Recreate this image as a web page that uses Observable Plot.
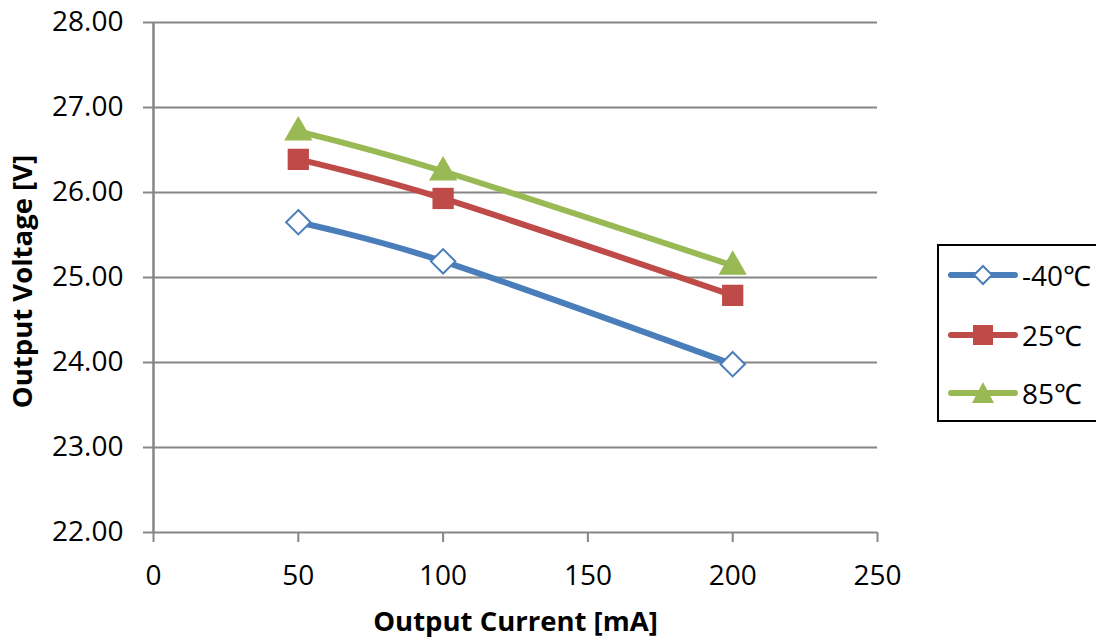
<!DOCTYPE html>
<html>
<head>
<meta charset="utf-8">
<script src="https://cdn.jsdelivr.net/npm/d3@7"></script>
<script src="https://cdn.jsdelivr.net/npm/@observablehq/plot@0.6"></script>
<style>
  html, body { margin: 0; padding: 0; background: #fff; overflow: hidden; }
  #wrap { position: relative; width: 1096px; height: 639px; font-family: "Open Sans", sans-serif; }
  #chart { position: absolute; left: 0; top: 0; }
  #legend { position: absolute; left: 937px; top: 244px; width: 175px; height: 178px; border: 2px solid #000; box-sizing: border-box; background: #fff; }
  .row { position: absolute; left: 9px; height: 36px; display: flex; align-items: center; }
  .row svg { display: block; }
  .row span { font-size: 28px; color: #000; margin-left: 4px; line-height: 1; }
</style>
</head>
<body>
<div id="wrap">
  <div id="chart"></div>
  <div id="legend"></div>
</div>
<script>
const current = [50, 100, 200];
const seriesNames = ["-40℃", "25℃", "85℃"];
const vMinus40 = [25.65, 25.19, 23.98];
const v25 = [26.39, 25.93, 24.79];
const v85 = [26.72, 26.25, 25.14];
const yTicks = [22, 23, 24, 25, 26, 27, 28];
const xTicks = [0, 50, 100, 150, 200, 250];

const colors = ["#4A7EBB", "#BE4B48", "#98B954"];
const seriesValues = [vMinus40, v25, v85];
const data = seriesNames.flatMap((s, i) => current.map((c, j) => ({series: s, current: c, voltage: seriesValues[i][j]})));

const grid = "#868686";
const chart = Plot.plot({
  width: 930,
  height: 639,
  marginLeft: 153,
  marginRight: 53,
  marginTop: 22,
  marginBottom: 107,
  style: {fontFamily: "'Open Sans', sans-serif", fontSize: "28px", color: "#000", background: "#fff"},
  x: {domain: [0, 250]},
  y: {domain: [22, 28]},
  color: {domain: seriesNames, range: colors},
  marks: [
    Plot.gridY(yTicks, {stroke: grid, strokeOpacity: 1, strokeWidth: 2}),
    Plot.ruleX([0], {stroke: grid, strokeWidth: 2.5}),
    Plot.axisY(yTicks, {tickSize: 10, tickPadding: 20, stroke: grid, strokeWidth: 2, fill: "#000", tickFormat: d3.format(".2f"), label: null}),
    Plot.axisX(xTicks, {tickSize: 10, tickPadding: 23, stroke: grid, strokeWidth: 2, fill: "#000", label: null}),
    Plot.text(["Output Voltage [V]"], {frameAnchor: "left", textAnchor: "middle", lineAnchor: "middle", dx: -130, dy: 4, rotate: -90, fontWeight: "bold", fontSize: 27.5, fill: "#000"}),
    Plot.text(["Output Current [mA]"], {frameAnchor: "bottom", lineAnchor: "middle", dy: 90, fontWeight: "bold", fontSize: 27.5, fill: "#000"}),
    Plot.line(data, {x: "current", y: "voltage", z: "series", stroke: "series", strokeWidth: 6, curve: "cardinal", strokeLinecap: "round"}),
    Plot.dot(data.filter(d => d.series === seriesNames[0]), {x: "current", y: "voltage", symbol: "diamond2", r: 11, stroke: colors[0], strokeWidth: 2, fill: "#fff"}),
    Plot.dot(data.filter(d => d.series === seriesNames[1]), {x: "current", y: "voltage", symbol: "square", r: 12, fill: colors[1], stroke: "none"}),
    Plot.dot(data.filter(d => d.series === seriesNames[2]), {x: "current", y: "voltage", symbol: "triangle", r: 10.5, fill: colors[2], stroke: "none", dy: 1})
  ]
});
document.getElementById("chart").appendChild(chart);

// legend
const legend = d3.select("#legend");
const rowsY = [11, 71, 129];
const markers = [
  g => g.append("path").attr("d", "M35,6 L44,15 L35,24 L26,15 Z").attr("fill", "#fff").attr("stroke", colors[0]).attr("stroke-width", 2),
  g => g.append("rect").attr("x", 25).attr("y", 5).attr("width", 20).attr("height", 20).attr("fill", colors[1]),
  g => g.append("path").attr("d", "M35,4 L46,25 L24,25 Z").attr("fill", colors[2])
];
seriesNames.forEach((s, i) => {
  const row = legend.append("div").attr("class", "row").style("top", rowsY[i] + "px");
  const svg = row.append("svg").attr("width", 70).attr("height", 30);
  svg.append("line").attr("x1", 3).attr("x2", 67).attr("y1", 15).attr("y2", 15).attr("stroke", colors[i]).attr("stroke-width", 6).attr("stroke-linecap", "round");
  markers[i](svg);
  row.append("span").text(s);
});
</script>
</body>
</html>
